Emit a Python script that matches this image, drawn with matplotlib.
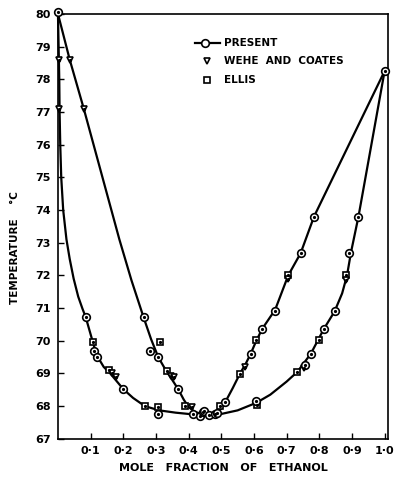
import matplotlib
matplotlib.use('Agg')
import matplotlib.pyplot as plt

# boiling curves (mole fraction ethanol, temperature C)
liquid_x = [0.0, 0.002, 0.004, 0.005, 0.007, 0.010, 0.016, 0.026, 0.036, 0.048, 0.062,
            0.075, 0.085, 0.097, 0.107, 0.119, 0.140, 0.160, 0.200, 0.230, 0.266, 0.310,
            0.360, 0.400, 0.450, 0.500, 0.550, 0.607, 0.650, 0.700, 0.733, 0.774, 0.814,
            0.847, 0.870, 0.885, 0.897, 0.920, 1.0]
liquid_t = [80.0, 79.0, 78.0, 77.0, 76.0, 75.0, 74.0, 73.1, 72.5, 71.9, 71.35,
            70.98, 70.72, 70.3, 69.95, 69.55, 69.2, 69.0, 68.52, 68.25, 68.0, 67.87,
            67.8, 67.76, 67.73, 67.76, 67.87, 68.1, 68.35, 68.75, 69.05, 69.6, 70.36,
            70.9, 71.45, 72.0, 72.7, 73.8, 78.25]

vapour_x = [0.0, 0.036, 0.079, 0.188, 0.225, 0.262, 0.285, 0.307, 0.330, 0.350, 0.368,
            0.385, 0.400, 0.420, 0.450, 0.480, 0.500, 0.511, 0.535, 0.557, 0.575, 0.590,
            0.605, 0.625, 0.665, 0.705, 0.743, 0.784, 1.0]
vapour_t = [80.0, 78.6, 77.1, 73.1, 71.85, 70.72, 70.05, 69.5, 69.1, 68.8, 68.52,
            68.2, 67.97, 67.82, 67.73, 67.78, 67.92, 68.1, 68.55, 68.99, 69.3, 69.6,
            69.95, 70.36, 70.95, 72.0, 72.68, 73.8, 78.25]

# measured points
present_x = [0.0, 0.085, 0.110, 0.119, 0.200, 0.307, 0.262, 0.281, 0.307, 0.368,
             0.413, 0.435, 0.445, 0.448, 0.463, 0.481, 0.486, 0.511, 0.590, 0.625,
             0.665, 0.743, 0.784, 0.607, 0.755, 0.774, 0.814, 0.847, 0.890, 0.920, 1.0]
present_t = [80.05, 70.72, 69.69, 69.50, 68.52, 67.77, 70.72, 69.70, 69.50, 68.52,
             67.77, 67.71, 67.82, 67.85, 67.72, 67.77, 67.79, 68.13, 69.60, 70.36,
             70.90, 72.68, 73.80, 68.15, 69.25, 69.60, 70.36, 70.90, 72.68, 73.78, 78.25]

wehe_x = [0.003, 0.004, 0.036, 0.079, 0.166, 0.178, 0.346, 0.356, 0.410, 0.572,
          0.705, 0.883, 0.752]
wehe_t = [78.6, 77.1, 78.6, 77.1, 69.01, 68.88, 68.91, 68.88, 67.97, 69.21,
          71.89, 71.87, 69.18]

ellis_x = [0.107, 0.155, 0.266, 0.307, 0.312, 0.334, 0.390, 0.496, 0.557, 0.605,
           0.705, 0.610, 0.733, 0.799, 0.882]
ellis_t = [69.95, 69.10, 67.99, 67.97, 69.95, 69.06, 67.99, 68.01, 68.99, 70.03,
           72.02, 68.02, 69.03, 70.03, 72.02]

yticks = list(range(67, 81))
xticks = [0.1, 0.2, 0.3, 0.4, 0.5, 0.6, 0.7, 0.8, 0.9, 1.0]
xticklabels = ['0·1', '0·2', '0·3', '0·4', '0·5', '0·6', '0·7', '0·8', '0·9', '1·0']

plt.rcParams['font.family'] = 'DejaVu Sans'
plt.rcParams['font.weight'] = 'bold'

fig = plt.figure(figsize=(3.97, 4.78), dpi=100)
ax = fig.add_axes([0.146, 0.082, 0.831, 0.889])

ax.plot(liquid_x, liquid_t, c='k', lw=1.6, zorder=2, clip_on=False)
ax.plot(vapour_x, vapour_t, c='k', lw=1.6, zorder=2, clip_on=False)

def dotted(x, y, m, ms):
    ax.plot(x, y, m, mfc='white', mec='k', mew=1.2, ms=ms, ls='none', zorder=3, clip_on=False)
    ax.plot(x, y, 'o', c='k', ms=1.3, ls='none', zorder=4, clip_on=False)

dotted(ellis_x, ellis_t, 's', 5)
dotted(wehe_x, wehe_t, 'v', 5)
dotted(present_x, present_t, 'o', 5.5)

# legend drawn by hand, like the original
ax.plot([0.415, 0.491], [0.932, 0.932], c='k', lw=1.6, transform=ax.transAxes)
ax.plot([0.445], [0.932], 'o', mfc='white', mec='k', mew=1.2, ms=5.5, transform=ax.transAxes)
ax.plot([0.451], [0.889], 'v', mfc='white', mec='k', mew=1.2, ms=5, transform=ax.transAxes)
ax.plot([0.451], [0.845], 's', mfc='white', mec='k', mew=1.2, ms=5, transform=ax.transAxes)
for yy, txt in [(0.932, 'PRESENT'), (0.889, 'WEHE  AND  COATES'), (0.845, 'ELLIS')]:
    ax.text(0.503, yy, txt, transform=ax.transAxes, fontsize=7.5, fontweight='bold',
            va='center', ha='left')

ax.set_xlim(0, 1.01)
ax.set_ylim(67, 80)
ax.set_xticks(xticks)
ax.set_xticklabels(xticklabels)
ax.set_yticks(yticks)
ax.tick_params(direction='in', length=4, width=1.0, labelsize=8, pad=5)
for s in ax.spines.values():
    s.set_linewidth(1.2)

ax.set_xlabel('MOLE   FRACTION   OF   ETHANOL', fontsize=8, fontweight='bold', labelpad=5)
ax.set_ylabel('TEMPERATURE    °C', fontsize=7.5, fontweight='bold')
ax.yaxis.set_label_coords(-0.115, 0.45)

plt.savefig('out.png', dpi=100)
